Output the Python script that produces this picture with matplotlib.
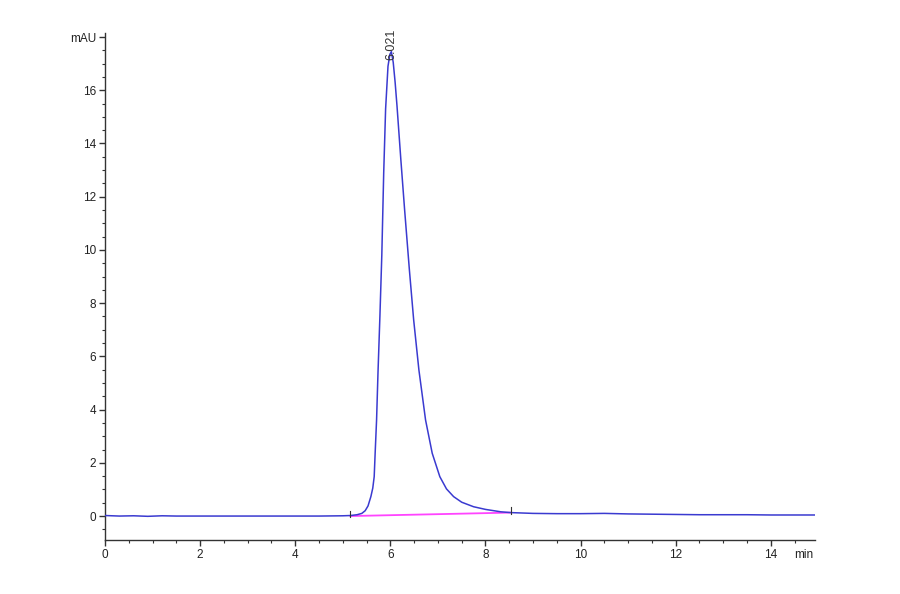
import matplotlib
matplotlib.use("Agg")
import matplotlib.pyplot as plt
from matplotlib.ticker import MultipleLocator, FixedLocator

plt.rcParams['font.family'] = ['Liberation Sans', 'DejaVu Sans']

# Chromatogram signal (time in min, signal in mAU)
time_min = [0.0, 0.3, 0.6, 0.9, 1.2, 1.5, 2.0, 2.5, 3.0, 3.5, 4.0, 4.5, 5.0, 5.16,
            5.30, 5.40, 5.47, 5.53, 5.59, 5.63, 5.66, 5.68, 5.71, 5.74, 5.78,
            5.82, 5.86, 5.90, 5.95, 5.99, 6.021, 6.06, 6.10, 6.14, 6.22, 6.30,
            6.40, 6.49, 6.60, 6.74, 6.88, 7.04, 7.18, 7.33, 7.50, 7.75,
            8.00, 8.32, 8.53, 9.0, 9.5, 10.0, 10.5, 11.0, 11.5, 12.0, 12.5,
            13.0, 13.5, 14.0, 14.5, 14.93]
signal_mau = [0.02, 0.0, 0.01, -0.01, 0.01, 0.0, 0.0, 0.0, 0.0, 0.0, 0.0, 0.0, 0.01, 0.02,
              0.05, 0.10, 0.20, 0.38, 0.73, 1.05, 1.48, 2.36, 3.61, 5.40, 7.50,
              9.80, 12.9, 15.3, 16.9, 17.35, 17.45, 17.05, 16.3, 15.4, 13.4, 11.5,
              9.25, 7.37, 5.49, 3.61, 2.36, 1.48, 1.02, 0.73, 0.52, 0.35,
              0.25, 0.16, 0.13, 0.10, 0.09, 0.09, 0.10, 0.08, 0.07, 0.06, 0.05,
              0.05, 0.05, 0.04, 0.04, 0.04]

# Integration baseline
baseline_t = [5.16, 8.53]
baseline_y = [0.0, 0.13]

peak_rt = 6.021
peak_label = "6.021"

y_major = [0, 2, 4, 6, 8, 10, 12, 14, 16, 18]
y_labels = ["0", "2", "4", "6", "8", "10", "12", "14", "16", "mAU"]
x_major = [0, 2, 4, 6, 8, 10, 12, 14]
x_labels = ["0", "2", "4", "6", "8", "10", "12", "14"]

fig = plt.figure(figsize=(9, 5.94), dpi=100)
ax = fig.add_axes([0.1167, 0.0909, 0.7889, 0.8535])

ax.plot(time_min, signal_mau, color="#3a3ad0", lw=1.1, zorder=3)
ax.plot(baseline_t, baseline_y, color="#ff44ff", lw=1.3, zorder=2)
for bt, by in zip(baseline_t, baseline_y):
    ax.plot([bt, bt], [by - 0.05, by + 0.2], color="#333333", lw=0.8, zorder=4)

ax.text(peak_rt, 17.15, peak_label, rotation=90, ha="center", va="bottom",
        fontsize=9, color="#333333", clip_on=False)

ax.set_xlim(0, 14.93)
ax.set_ylim(-0.9, 18.15)

ax.xaxis.set_major_locator(FixedLocator(x_major))
ax.set_xticklabels(x_labels)
ax.xaxis.set_minor_locator(MultipleLocator(0.5))
ax.yaxis.set_major_locator(FixedLocator(y_major))
ax.set_yticklabels(y_labels)
ax.yaxis.set_minor_locator(MultipleLocator(0.5))

for s in ["top", "right"]:
    ax.spines[s].set_visible(False)
for s in ["left", "bottom"]:
    ax.spines[s].set_color("#333333")
    ax.spines[s].set_linewidth(1.0)

ax.tick_params(which="major", direction="out", length=4, width=1, color="#333333",
               labelsize=8.5, labelcolor="#222222", pad=2.5)
ax.tick_params(which="minor", direction="out", length=2, width=0.8, color="#333333")

ax.annotate("min", xy=(1.0, 0.0), xycoords="axes fraction", xytext=(-1, -6.5),
            textcoords="offset points", ha="right", va="top",
            fontsize=8.5, color="#222222")

fig.savefig("out.png", dpi=100)
